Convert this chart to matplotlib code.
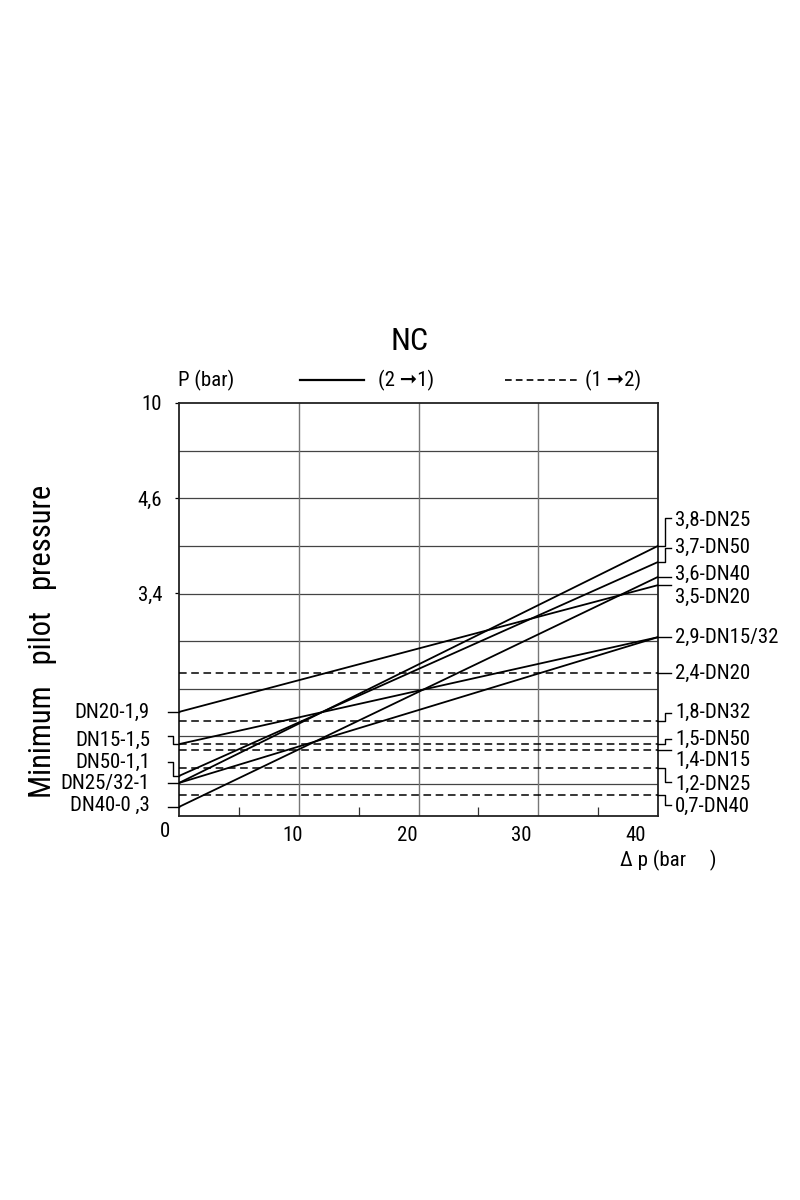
import numpy as np
import matplotlib
matplotlib.use("Agg")
import matplotlib.pyplot as plt
from matplotlib import font_manager
from matplotlib.lines import Line2D

# values
solid_dn = ["DN20", "DN15", "DN50", "DN25", "DN32", "DN40"]
solid_p0 = [1.9, 1.5, 1.1, 1.0, 1.0, 0.3]     # pilot pressure at dp = 0
solid_p1 = [3.5, 2.9, 3.7, 3.8, 2.9, 3.6]     # pilot pressure at right edge
dashed_dn = ["DN20", "DN32", "DN50", "DN15", "DN25", "DN40"]
dashed_p = [2.4, 1.8, 1.5, 1.4, 1.2, 0.7]

left_labels = ["DN20-1,9", "DN15-1,5", "DN50-1,1", "DN25/32-1", "DN40-0 ,3"]
left_p = [1.9, 1.5, 1.1, 1.0, 0.3]
right_labels = ["3,8-DN25", "3,7-DN50", "3,6-DN40", "3,5-DN20", "2,9-DN15/32",
                "2,4-DN20", "1,8-DN32", "1,5-DN50", "1,4-DN15", "1,2-DN25", "0,7-DN40"]
right_p = [3.8, 3.7, 3.6, 3.5, 2.9, 2.4, 1.8, 1.5, 1.4, 1.2, 0.7]

y_ticks = [3.4, 4.6, 10]
y_ticklabels = ["3,4", "4,6", "10"]
x_ticks = [10, 20, 30, 40]
dp_max = 42

# the printed pressure axis is not proportional -> piecewise scale
# (pressure, fraction of axis height)
scale_p = [0, 0.3, 0.7, 1.0, 1.1, 1.2, 1.4, 1.5, 1.8, 1.9, 2.4, 2.9, 3.4, 3.5, 3.6, 3.7, 3.8, 4.6, 10]
scale_f = [0, 0.022, 0.051, 0.080, 0.097, 0.116, 0.160, 0.174, 0.230, 0.252, 0.346,
           0.433, 0.540, 0.559, 0.579, 0.615, 0.654, 0.770, 1.0]

# label nudges in pixels (down = positive): bracket jog, text shift
right_jog = [-28, -14, 0, 0, 0, 0, -8, -5, 0, 14, 10]
right_txt = [-26, -15, -2, 12, 0, 0, -9, -5, 10, 16, 11]
left_jog = [0, -8, -14, 0, 0]
left_txt = [0, -4, -14, 1, -2]

# pick a narrow font if there is one
names = {f.name for f in font_manager.fontManager.ttflist}
stretch = "normal"
font = "Liberation Sans"
for cand in ["Liberation Sans Narrow", "Roboto Condensed", "Open Sans Condensed", "Noto Sans Condensed"]:
    if cand in names:
        font = cand
        break
else:
    cond = [f for f in font_manager.fontManager.ttflist
            if f.stretch in ("condensed", "semi-condensed") and f.weight in (400, "normal", "regular")
            and f.style == "normal"]
    if cond:
        font = cond[0].name
        stretch = cond[0].stretch
plt.rcParams["font.family"] = [font, "DejaVu Sans"]
plt.rcParams["font.stretch"] = stretch

FS = 15

fig = plt.figure(figsize=(8, 12), dpi=100)
ax = fig.add_axes([0.22375, 0.32, 0.59875, 0.34417])


def fwd(v):
    return np.interp(v, scale_p, scale_f)


def inv(f):
    return np.interp(f, scale_f, scale_p)


ax.set_yscale("function", functions=(fwd, inv))
ax.set_xlim(0, dp_max)
ax.set_ylim(0, 10)

# grid
for k in range(8):
    f = 0.0775 + 0.11525 * k
    ax.plot([0, 1], [f, f], transform=ax.transAxes, color="#444444", lw=0.9, zorder=1)
for k in range(1, 4):
    ax.axvline(dp_max * k / 4, color="#777777", lw=1.0, zorder=1)

# curves
for p0, p1 in zip(solid_p0, solid_p1):
    ax.plot([0, dp_max], [p0, p1], color="black", lw=1.3, zorder=3)
for p in dashed_p:
    ax.plot([0, dp_max], [p, p], color="black", lw=1.1, ls=(0, (5, 3)), zorder=3)

for s in ax.spines.values():
    s.set_linewidth(1.3)
    s.set_color("#222222")

ax.set_yticks(y_ticks)
ax.set_yticklabels(y_ticklabels)
ax.yaxis.set_minor_locator(matplotlib.ticker.NullLocator())
ax.tick_params(axis="y", length=3, width=0.9, pad=9, labelsize=FS)
ax.set_xticks(x_ticks)
ax.set_xticks([dp_max * (2 * k + 1) / 8 for k in range(4)], minor=True)
ax.tick_params(axis="x", which="major", length=0, pad=7, labelsize=FS)
ax.tick_params(axis="x", which="minor", direction="in", length=6.5, width=0.9, color="#333333")
ax.annotate("0", xy=(0, 0), xytext=(-10, -11), textcoords="offset points",
            ha="center", va="center", fontsize=FS)

# brackets + labels, built in pixel space
to_fig = fig.transFigure.inverted()


def fig_line(xs, ys, **kw):
    pts = to_fig.transform(np.column_stack([xs, ys]))
    fig.add_artist(Line2D(pts[:, 0], pts[:, 1], transform=fig.transFigure, **kw))


def fig_text(x, y, s, **kw):
    fx, fy = to_fig.transform((x, y))
    fig.text(fx, fy, s, **kw)


for lab, p, jog, tdy in zip(right_labels, right_p, right_jog, right_txt):
    x0, y0 = ax.transData.transform((dp_max, p))
    fig_line([x0, x0 + 7, x0 + 7, x0 + 13], [y0, y0, y0 - jog, y0 - jog], color="black", lw=1.0)
    fig_text(x0 + 17, y0 - tdy, lab, ha="left", va="center", fontsize=FS)

for lab, p, jog, tdy in zip(left_labels, left_p, left_jog, left_txt):
    x0, y0 = ax.transData.transform((0, p))
    fig_line([x0, x0 - 6, x0 - 6, x0 - 11], [y0, y0, y0 - jog, y0 - jog], color="black", lw=1.0)
    fig_text(x0 - 29, y0 - tdy, lab, ha="right", va="center", fontsize=FS)

# header and legend
fig.text(410 / 800, 1 - 342 / 1200, "NC", ha="center", va="center", fontsize=23)
fig.text(178 / 800, 1 - 380 / 1200, "P (bar)", ha="left", va="center", fontsize=FS)
fig.add_artist(Line2D([300 / 800, 364 / 800], [1 - 380 / 1200] * 2, color="black", lw=1.6))
fig.text(378 / 800, 1 - 380 / 1200, "(2 \u279e1)", ha="left", va="center", fontsize=FS)
fig.add_artist(Line2D([505 / 800, 577 / 800], [1 - 380 / 1200] * 2, color="black", lw=1.2,
                      ls=(0, (4, 2.5))))
fig.text(585 / 800, 1 - 380 / 1200, "(1 \u279e2)", ha="left", va="center", fontsize=FS)

# axis titles
fig.text(43 / 800, 1 - 641 / 1200, "Minimum   pilot   pressure", rotation=90,
         ha="center", va="center", fontsize=22)
fig.text(620 / 800, 1 - 860 / 1200, "\u0394 p (bar     )", ha="left", va="center", fontsize=FS)

plt.savefig("out.png", dpi=100)
